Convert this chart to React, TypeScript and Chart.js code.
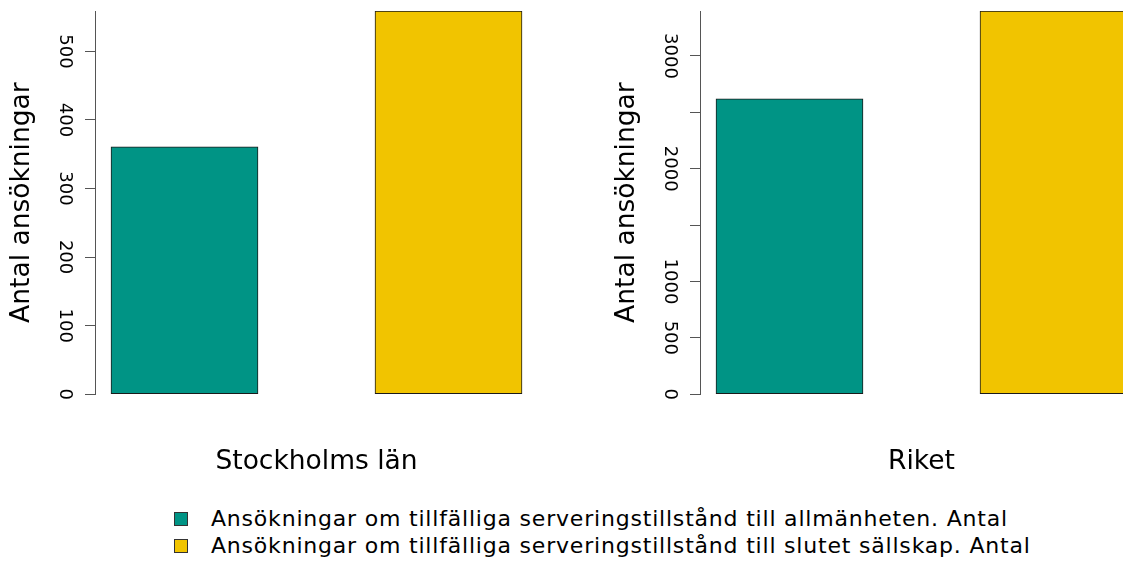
import React, { useEffect, useRef } from "react";
import { Chart, registerables } from "chart.js";

Chart.register(...registerables);

const categories = ["Stockholms län", "Riket"];
const seriesNames = [
  "Ansökningar om tillfälliga serveringstillstånd till allmänheten. Antal",
  "Ansökningar om tillfälliga serveringstillstånd till slutet sällskap. Antal",
];
const seriesColors = ["#009485", "#F1C400"];
const stockholmValues = [361, 559];
const riketValues = [2619, 3399];
const stockholmTickValues = [0, 100, 200, 300, 400, 500];
const stockholmTickLabels = ["0", "100", "200", "300", "400", "500"];
const riketTickValues = [0, 500, 1000, 1500, 2000, 2500, 3000];
const riketTickLabels = ["0", "500", "1000", "", "2000", "", "3000"];
const yAxisTitle = "Antal ansökningar";

const FONT = "'DejaVu Sans', Verdana, sans-serif";

type PanelProps = {
  category: string;
  values: number[];
  tickValues: number[];
  tickLabels: string[];
  left: number;
  tickPad: number;
};

function Panel({ category, values, tickValues, tickLabels, left, tickPad }: PanelProps) {
  const ref = useRef<HTMLCanvasElement | null>(null);
  useEffect(() => {
    if (!ref.current) return;
    const maxVal = Math.max(...values);
    const chart = new Chart(ref.current, {
      type: "bar",
      data: {
        datasets: [
          {
            data: values.map((v, i) => ({ x: i + 1, y: v })),
            backgroundColor: seriesColors,
            borderColor: "#1a1a1a",
            borderWidth: 1,
            borderSkipped: false,
            barThickness: 147,
          } as any,
        ],
      },
      options: {
        responsive: false,
        maintainAspectRatio: false,
        animation: false,
        layout: { padding: { top: 11, left: 0, right: 62, bottom: 2 } },
        plugins: { legend: { display: false }, tooltip: { enabled: false } },
        scales: {
          x: {
            type: "linear",
            min: 0.661,
            max: 2.339,
            offset: false,
            grid: { display: false, drawTicks: false },
            border: { display: false },
            ticks: { display: false },
            title: {
              display: true,
              text: category,
              color: "#000",
              font: { family: FONT, size: 26.5 },
              padding: { top: 52, bottom: 0 },
            },
          },
          y: {
            type: "linear",
            min: 0,
            max: maxVal,
            afterBuildTicks: (s: any) => {
              s.ticks = tickValues.map((v) => ({ value: v }));
            },
            ticks: {
              autoSkip: false,
              minRotation: -90,
              maxRotation: -90,
              crossAlign: "center",
              padding: tickPad,
              color: "#000",
              font: { family: FONT, size: 18 },
              callback: (v: any) => {
                const idx = tickValues.indexOf(Number(v));
                return idx >= 0 ? tickLabels[idx] : "";
              },
            },
            grid: {
              drawOnChartArea: false,
              drawTicks: true,
              tickLength: 10,
              tickColor: "#555",
              lineWidth: 1,
            },
            border: { display: true, color: "#555", width: 1 },
            title: {
              display: true,
              text: yAxisTitle,
              color: "#000",
              font: { family: FONT, size: 26.5 },
              padding: { top: 6, bottom: 0 },
            },
            afterFit: (s: any) => {
              s.width = 95;
              s.paddingTop = 0;
              s.paddingBottom = 0;
            },
          },
        },
      } as any,
    });
    return () => chart.destroy();
  }, []);
  return (
    <canvas
      ref={ref}
      width={600}
      height={480}
      style={{ position: "absolute", left, top: 0, width: 600, height: 480 }}
    />
  );
}

export default function App() {
  return (
    <div
      style={{
        position: "fixed",
        left: 0,
        top: 0,
        width: 1123,
        height: 562,
        overflow: "hidden",
        background: "#fff",
      }}
    >
      <Panel
        category={categories[0]}
        values={stockholmValues}
        tickValues={stockholmTickValues}
        tickLabels={stockholmTickLabels}
        left={0}
        tickPad={2.8}
      />
      <Panel
        category={categories[1]}
        values={riketValues}
        tickValues={riketTickValues}
        tickLabels={riketTickLabels}
        left={605}
        tickPad={-3}
      />
      {seriesNames.map((name, i) => (
        <div
          key={name}
          style={{
            position: "absolute",
            left: 174,
            top: 505 + i * 27,
            height: 27,
            display: "flex",
            alignItems: "center",
            whiteSpace: "nowrap",
            fontFamily: FONT,
            fontSize: 22,
            letterSpacing: 0.8,
            color: "#000",
          }}
        >
          <span
            style={{
              display: "inline-block",
              width: 12,
              height: 12,
              background: seriesColors[i],
              border: "1px solid #333",
              marginRight: 23,
            }}
          />
          <span>{name}</span>
        </div>
      ))}
    </div>
  );
}
